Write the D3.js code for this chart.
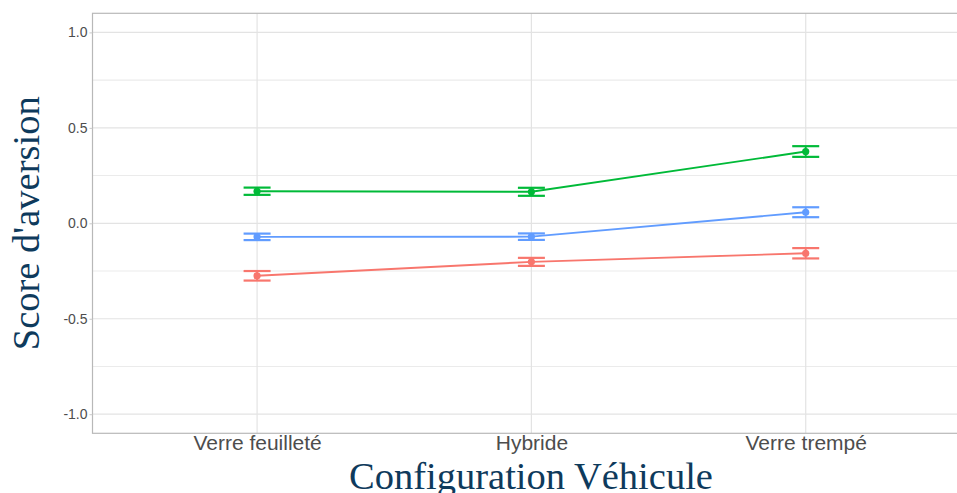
<!DOCTYPE html>
<html>
<head>
<meta charset="utf-8">
<script src="https://cdn.jsdelivr.net/npm/d3@7"></script>
<style>
  html, body { margin: 0; padding: 0; background: #fff; overflow: hidden; }
  svg { display: block; }
</style>
</head>
<body>
<script>
// Configurations compared on the x axis
const categories = ["Verre feuilleté", "Hybride", "Verre trempé"];
// Mean aversion score per group, with half-width of the error bar
const groups = ["rouge", "vert", "bleu"];
const colors = ["#F8766D", "#00BA38", "#619CFF"];
const meanRouge = [-0.275, -0.202, -0.157];
const errRouge  = [0.025, 0.021, 0.027];
const meanVert  = [0.168, 0.165, 0.376];
const errVert   = [0.019, 0.021, 0.028];
const meanBleu  = [-0.071, -0.070, 0.058];
const errBleu   = [0.017, 0.017, 0.026];
const yTicks = [-1.0, -0.5, 0.0, 0.5, 1.0];
const yMinor = [-0.75, -0.25, 0.25, 0.75];

const series = [
  { key: groups[0], color: colors[0], mean: meanRouge, err: errRouge },
  { key: groups[1], color: colors[1], mean: meanVert,  err: errVert },
  { key: groups[2], color: colors[2], mean: meanBleu,  err: errBleu }
];

const W = 957, H = 493;
const panel = { left: 92.5, top: 13.3, right: 970.3, bottom: 433.3 };

const svg = d3.select("body").append("svg").attr("width", W).attr("height", H);

const x = d3.scalePoint().domain(categories)
  .range([panel.left, panel.right]).padding(0.6);
const y = d3.scaleLinear().domain([-1.1, 1.1]).range([panel.bottom, panel.top]);

// Grid
const grid = svg.append("g");
grid.selectAll("line.minor").data(yMinor).join("line")
  .attr("x1", panel.left).attr("x2", panel.right)
  .attr("y1", d => y(d)).attr("y2", d => y(d))
  .attr("stroke", "#ebebeb").attr("stroke-width", 1.1);
grid.selectAll("line.major").data(yTicks).join("line")
  .attr("x1", panel.left).attr("x2", panel.right)
  .attr("y1", d => y(d)).attr("y2", d => y(d))
  .attr("stroke", "#e3e3e3").attr("stroke-width", 1.2);
grid.selectAll("line.vert").data(categories).join("line")
  .attr("x1", d => x(d)).attr("x2", d => x(d))
  .attr("y1", panel.top).attr("y2", panel.bottom)
  .attr("stroke", "#e3e3e3").attr("stroke-width", 1.2);

// Panel border
svg.append("rect")
  .attr("x", panel.left).attr("y", panel.top)
  .attr("width", panel.right - panel.left).attr("height", panel.bottom - panel.top)
  .attr("fill", "none").attr("stroke", "#b8b8b8").attr("stroke-width", 1.2);

// Y axis ticks and labels (plain hyphen for negatives)
const fmt = d3.format(".1f");
const yAxis = d3.axisLeft(y).tickValues(yTicks)
  .tickFormat(d => fmt(d).replace("\u2212", "-"))
  .tickSize(3).tickPadding(2);
const ya = svg.append("g").attr("transform", `translate(${panel.left},0)`).call(yAxis);
ya.select(".domain").remove();
ya.selectAll(".tick line").attr("stroke", "#c8c8c8");
ya.selectAll(".tick text")
  .attr("fill", "#4d4d4d")
  .style("font-family", "'Liberation Sans', Arial, sans-serif")
  .style("font-size", "14px");

// X axis labels
const xAxis = d3.axisBottom(x).tickSize(0).tickPadding(2);
const xa = svg.append("g").attr("transform", `translate(0,${panel.bottom})`).call(xAxis);
xa.select(".domain").remove();
xa.selectAll(".tick text")
  .attr("fill", "#4d4d4d")
  .style("font-family", "'Liberation Sans', Arial, sans-serif")
  .style("font-size", "21px");

// Lines, error bars, points
const capHalf = 13.5;
const marks = svg.append("g");
series.forEach(s => {
  const pts = categories.map((c, i) => ({ c, m: s.mean[i], e: s.err[i] }));
  marks.append("path").datum(pts)
    .attr("fill", "none").attr("stroke", s.color).attr("stroke-width", 1.9)
    .attr("d", d3.line().x(d => x(d.c)).y(d => y(d.m)));
  const g = marks.append("g");
  g.selectAll("line.v").data(pts).join("line")
    .attr("x1", d => x(d.c)).attr("x2", d => x(d.c))
    .attr("y1", d => y(d.m - d.e)).attr("y2", d => y(d.m + d.e))
    .attr("stroke", s.color).attr("stroke-width", 1.9);
  [-1, 1].forEach(sign => {
    g.selectAll(null).data(pts).join("line")
      .attr("x1", d => x(d.c) - capHalf).attr("x2", d => x(d.c) + capHalf)
      .attr("y1", d => y(d.m + sign * d.e)).attr("y2", d => y(d.m + sign * d.e))
      .attr("stroke", s.color).attr("stroke-width", 2.2);
  });
  g.selectAll("circle").data(pts).join("circle")
    .attr("cx", d => x(d.c)).attr("cy", d => y(d.m)).attr("r", 3.6)
    .attr("fill", s.color);
});

// Axis titles
svg.append("text")
  .attr("x", 531)
  .attr("y", 489)
  .attr("text-anchor", "middle")
  .attr("fill", "#0e3a5c")
  .style("font-family", "'Liberation Serif', 'Times New Roman', serif")
  .style("font-size", "38.5px")
  .text("Configuration Véhicule");

svg.append("text")
  .attr("transform", `translate(39,${y(0)}) rotate(-90)`)
  .attr("text-anchor", "middle")
  .attr("fill", "#0e3a5c")
  .style("font-family", "'Liberation Serif', 'Times New Roman', serif")
  .style("font-size", "38.5px")
  .text("Score d'aversion");
</script>
</body>
</html>
